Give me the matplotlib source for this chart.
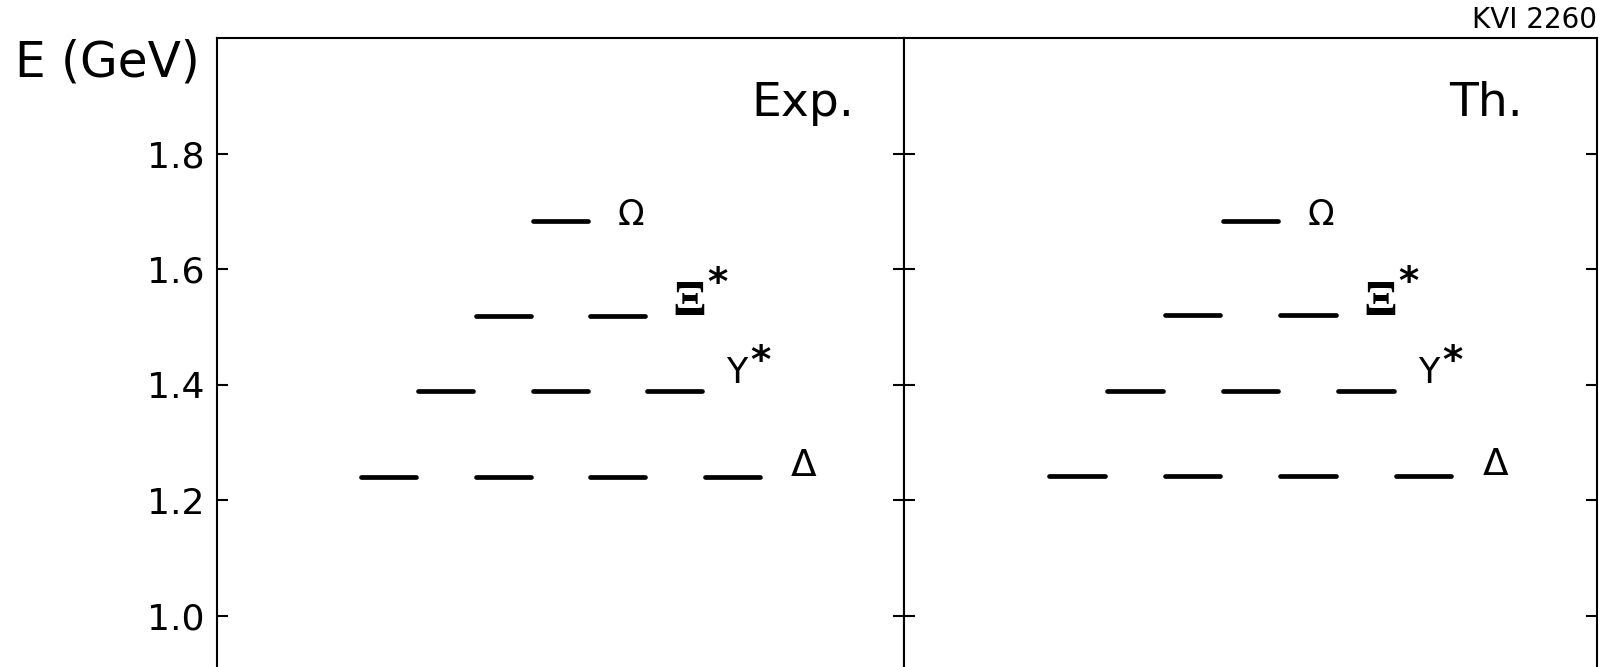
import matplotlib
matplotlib.use("Agg")
import matplotlib.pyplot as plt

# baryon decuplet masses (GeV), experiment vs. theory
exp_delta = [1.240, 1.240, 1.240, 1.240]
exp_ystar = [1.389, 1.389, 1.389]
exp_xi = [1.519, 1.519]
exp_omega = [1.684]

th_delta = [1.241, 1.241, 1.241, 1.241]
th_ystar = [1.389, 1.389, 1.389]
th_xi = [1.520, 1.520]
th_omega = [1.684]

# horizontal slots of the levels inside each panel
delta_pos = [0, 2, 4, 6]
ystar_pos = [1, 3, 5]
xi_pos = [2, 4]
omega_pos = [3]

yticks = [1.0, 1.2, 1.4, 1.6, 1.8]
ytick_labels = ['1.0', '1.2', '1.4', '1.6', '1.8']

plt.rcParams['font.family'] = 'DejaVu Sans'

fig = plt.figure(figsize=(16.09, 6.67), dpi=100)
x0, xm, x1 = 0.1347, 0.5618, 0.9924
top = 0.9426
ax1 = fig.add_axes([x0, 0.0, xm - x0, top])
ax2 = fig.add_axes([xm, 0.0, x1 - xm, top])


def draw_panel(ax, levels, title, title_x):
    half = 0.48
    for pos, vals in levels:
        for k, e in zip(pos, vals):
            ax.plot([k - half, k + half], [e, e], color='black', lw=3.4,
                     solid_capstyle='round')
    delta, ystar, xi, omega = [v for _, v in levels]
    ax.text(4.0, omega[0] + 0.010, 'Ω', fontsize=25, ha='left', va='center')
    ax.text(4.95, xi[0] + 0.022, 'Ξ', fontsize=36, ha='left', va='center',
            family='Liberation Serif', fontweight='bold')
    ax.text(5.57, xi[0] + 0.056, '*', fontsize=28, ha='left', va='center',
            fontweight='bold')
    ax.text(5.9, ystar[0] + 0.031, 'Y', fontsize=25, ha='left', va='center')
    ax.text(6.32, ystar[0] + 0.050, '*', fontsize=28, ha='left', va='center',
            fontweight='bold')
    ax.text(7.02, delta[0] + 0.020, 'Δ', fontsize=27, ha='left', va='center')
    ax.text(title_x, 1.887, title, fontsize=34, ha='right', va='center')

    ax.set_xlim(-3, 9)
    ax.set_ylim(0.911, 2.0)
    ax.set_xticks([])
    ax.set_yticks(yticks)
    ax.spines['bottom'].set_visible(False)
    for s in ['left', 'right', 'top']:
        ax.spines[s].set_linewidth(1.5)
    ax.tick_params(axis='y', direction='in', length=8, width=1.5,
                   left=True, right=True, labelsize=26, pad=9)


draw_panel(ax1, [(delta_pos, exp_delta), (ystar_pos, exp_ystar),
                 (xi_pos, exp_xi), (omega_pos, exp_omega)], 'Exp.', 8.13)
draw_panel(ax2, [(delta_pos, th_delta), (ystar_pos, th_ystar),
                 (xi_pos, th_xi), (omega_pos, th_omega)], 'Th.', 7.72)
ax1.set_yticklabels(ytick_labels)
ax2.tick_params(axis='y', labelleft=False)

fig.text(0.0095, 0.907, 'E (GeV)', fontsize=35, ha='left', va='center')
fig.text(0.9925, 0.970, 'KVI 2260', fontsize=20, ha='right', va='center')

fig.savefig('out.png', dpi=100)
